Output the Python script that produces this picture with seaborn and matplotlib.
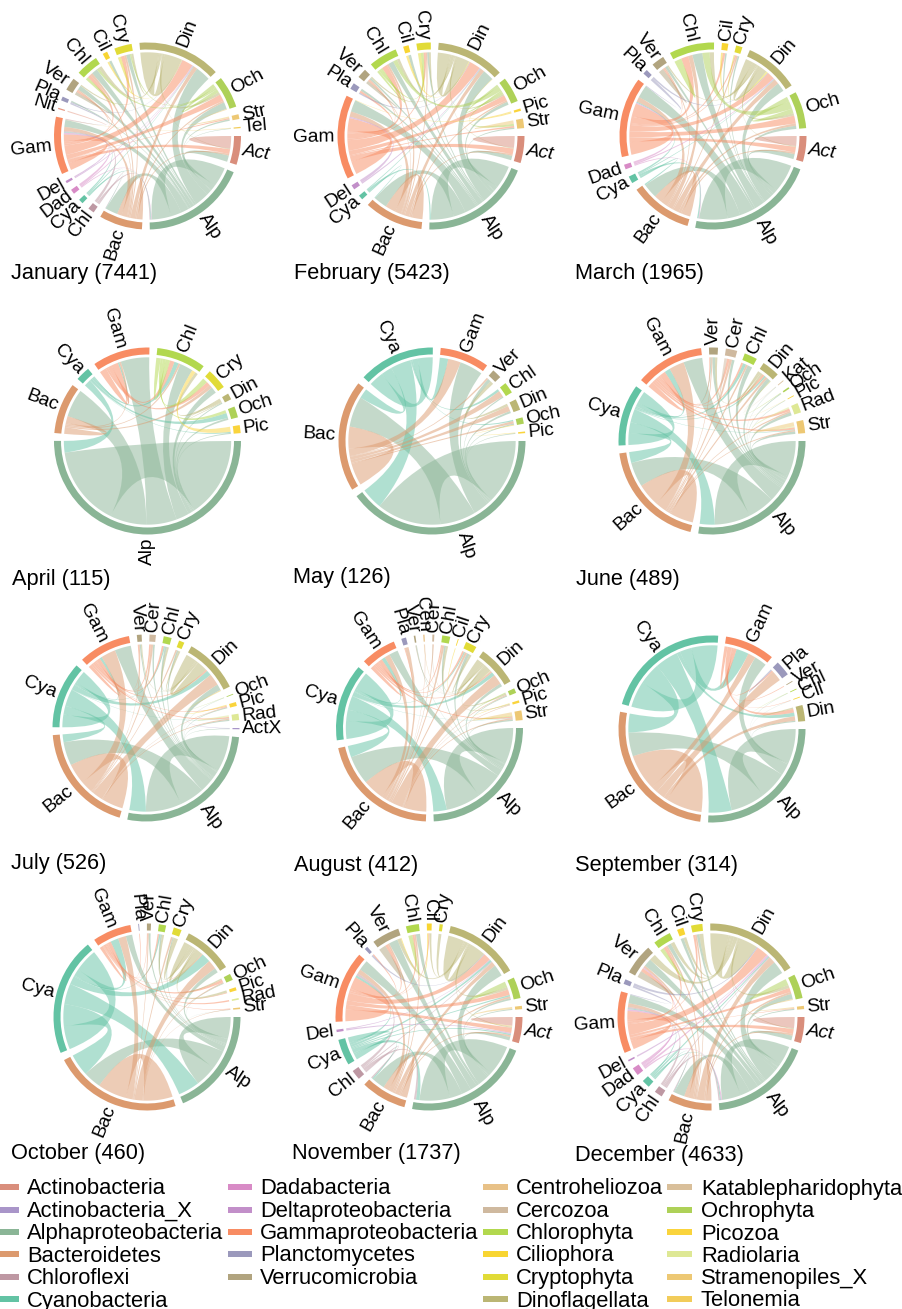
import numpy as np
import matplotlib
matplotlib.use("Agg")
import matplotlib.pyplot as plt
from matplotlib.path import Path
from matplotlib.patches import PathPatch, Wedge, Rectangle
import seaborn as sns

sns.set_theme(style="white")
plt.rcParams['font.family'] = ['Liberation Sans', 'DejaVu Sans']

TAXA = ["Act","ActX","Alp","Bac","Chf","Cya","Dad","Del","Gam","Nit","Pla","Ver",
        "Cen","Cer","Chl","Cil","Cry","Din","Kat","Och","Pic","Rad","Str","Tel"]
TAXA_COLORS = ["#D98E7C","#A995C9","#8AB596","#DC9A6E","#BE98A3","#63C3A4","#D88BC6","#C28FC9",
               "#F88C63","#E59A86","#9B99BC","#B1A47F","#E8C187","#CFB99F","#B2D84E","#F8D532",
               "#E1DB37","#BBB674","#D9BF9A","#AED158","#FAD43C","#DEE895","#EDC874","#F2CC5A"]
palette = dict(zip(TAXA, sns.color_palette(TAXA_COLORS)))

LEG1 = ["Actinobacteria","Actinobacteria_X","Alphaproteobacteria","Bacteroidetes","Chloroflexi","Cyanobacteria"]
LEG1_K = ["Act","ActX","Alp","Bac","Chf","Cya"]
LEG2 = ["Dadabacteria","Deltaproteobacteria","Gammaproteobacteria","Planctomycetes","Verrucomicrobia"]
LEG2_K = ["Dad","Del","Gam","Pla","Ver"]
LEG3 = ["Centroheliozoa","Cercozoa","Chlorophyta","Ciliophora","Cryptophyta","Dinoflagellata"]
LEG3_K = ["Cen","Cer","Chl","Cil","Cry","Din"]
LEG4 = ["Katablepharidophyta","Ochrophyta","Picozoa","Radiolaria","Stramenopiles_X","Telonemia"]
LEG4_K = ["Kat","Och","Pic","Rad","Str","Tel"]

MONTHS = ["January","February","March","April","May","June","July","August","September",
          "October","November","December"]
COUNTS = [7441,5423,1965,115,126,489,526,412,314,460,1737,4633]

jan_s = dict(Act=18,Alp=66,Bac=27,Chf=4,Cya=3,Dad=3,Del=1.5,Gam=36,Nit=.8,Pla=2.5,Ver=8,Chl=14,Cil=3,Cry=11,Din=52,Och=20,Str=3,Tel=.8)
jan_l = [("Alp","Alp",15),("Alp","Act",4),("Alp","Tel",.2),("Alp","Str",.5),("Alp","Och",4),("Alp","Din",11),("Alp","Cry",1.5),("Alp","Cil",.4),("Alp","Chl",2.5),("Alp","Ver",2),("Alp","Pla",.5),("Alp","Gam",6),("Alp","Bac",8),
 ("Bac","Bac",3),("Bac","Act",1),("Bac","Och",1),("Bac","Din",3),("Bac","Cry",.8),("Bac","Chl",1),("Bac","Ver",.6),("Bac","Gam",3.5),
 ("Gam","Gam",6),("Gam","Act",3),("Gam","Str",.4),("Gam","Och",4),("Gam","Din",8),("Gam","Cry",1.5),("Gam","Chl",1.5),("Gam","Ver",.7),
 ("Cya","Alp",.6),("Cya","Bac",.3),("Cya","Gam",.6),("Cya","Din",.4),("Chf","Alp",.6),("Chf","Bac",.3),("Chf","Gam",.8),
 ("Dad","Gam",1),("Dad","Din",.5),("Dad","Alp",.4),("Del","Gam",.4),("Del","Din",.3),
 ("Din","Din",13),("Din","Och",1.5),("Din","Cry",.8),("Din","Chl",1.4),("Din","Ver",.6),("Din","Act",.4),
 ("Och","Och",2),("Och","Chl",1),("Och","Cry",.6),("Act","Act",4),("Ver","Ver",.7),("Chl","Chl",.6),("Cry","Cry",.6),
 ("Pla","Gam",.5),("Pla","Din",.3),("Nit","Gam",.3),("Cil","Din",.3),("Str","Och",.5),("Tel","Gam",.2)]

feb_s = dict(Act=17,Alp=70,Bac=37,Cya=3,Del=3,Gam=53,Pla=4,Ver=6,Chl=18,Cil=3.5,Cry=9,Din=43,Och=16,Pic=1.5,Str=6)
feb_l = [("Alp","Alp",17),("Alp","Act",3),("Alp","Str",.6),("Alp","Och",2),("Alp","Din",8),("Alp","Cry",1),("Alp","Cil",.6),("Alp","Chl",4),("Alp","Ver",1),("Alp","Pla",.8),("Alp","Gam",9),("Alp","Bac",9),
 ("Bac","Bac",7),("Bac","Act",1),("Bac","Och",1),("Bac","Din",3),("Bac","Cry",.8),("Bac","Chl",1.5),("Bac","Ver",.5),("Bac","Gam",4),
 ("Gam","Gam",10),("Gam","Act",4),("Gam","Str",.8),("Gam","Och",3.5),("Gam","Din",8),("Gam","Cry",1.2),("Gam","Chl",4),("Gam","Ver",.8),("Gam","Pla",.8),
 ("Cya","Alp",1),("Cya","Bac",.5),("Cya","Din",.4),("Del","Gam",1),("Del","Din",.5),
 ("Din","Din",9),("Din","Och",1),("Din","Cry",1),("Din","Chl",2),("Din","Ver",.8),("Din","Act",.5),
 ("Och","Och",1.5),("Och","Chl",3),("Och","Str",1),("Act","Act",4),("Ver","Ver",.8),("Chl","Chl",1.5),("Chl","Cry",1.5),("Cry","Cry",.8),
 ("Pla","Din",.5),("Cil","Din",.5),("Str","Str",.8),("Pic","Gam",.3),("Pic","Din",.3)]

mar_s = dict(Act=16,Alp=80,Bac=39,Cya=4.5,Dad=3,Gam=50,Pla=3,Ver=8,Chl=28,Cil=4,Cry=4,Din=34,Och=23)
mar_l = [("Alp","Alp",20),("Alp","Act",3),("Alp","Och",2),("Alp","Din",6),("Alp","Cry",.8),("Alp","Cil",.5),("Alp","Chl",7),("Alp","Ver",1.5),("Alp","Gam",10),("Alp","Bac",9),
 ("Bac","Bac",5),("Bac","Act",1),("Bac","Och",1.5),("Bac","Din",3.5),("Bac","Cry",.8),("Bac","Chl",3),("Bac","Ver",.8),("Bac","Gam",4),
 ("Gam","Gam",10),("Gam","Act",3.5),("Gam","Och",5),("Gam","Din",5),("Gam","Cry",.8),("Gam","Cil",.8),("Gam","Chl",5),("Gam","Ver",.8),
 ("Cya","Alp",1),("Cya","Bac",.8),("Cya","Gam",.8),("Cya","Din",.4),("Dad","Gam",.8),("Dad","Din",.6),("Dad","Alp",.4),
 ("Din","Din",5),("Din","Och",1.5),("Din","Chl",3),("Din","Ver",.8),("Din","Act",.5),
 ("Och","Och",3),("Och","Chl",5),("Act","Act",3),("Ver","Ver",1.5),("Chl","Chl",2.5),("Cry","Din",.6),("Cil","Din",.6),("Pla","Din",.4),("Pla","Gam",.6)]

apr_s = dict(Alp=181,Bac=32,Cya=9,Gam=36,Chl=31,Cry=13,Din=4,Och=7,Pic=5)
apr_l = [("Alp","Alp",55),("Alp","Pic",.5),("Alp","Och",1),("Alp","Din",.7),("Alp","Cry",2.5),("Alp","Chl",9),("Alp","Gam",21),("Alp","Bac",25),
 ("Cya","Alp",8),("Cya","Och",2.5),("Cya","Chl",3),("Cya","Gam",1),("Cya","Pic",.5),
 ("Bac","Bac",6),("Bac","Cry",1.3),("Bac","Chl",1.3),("Bac","Gam",1.3),
 ("Gam","Gam",5),("Gam","Cry",1.6),("Gam","Chl",3),
 ("Chl","Chl",3),("Chl","Och",1.5),("Chl","Cry",2),("Din","Din",.5),("Din","Chl",2),("Pic","Chl",2.5)]

may_s = dict(Alp=145,Bac=70,Cya=48,Gam=31,Ver=6,Chl=7,Din=7,Och=4,Pic=1)
may_l = [("Alp","Alp",45),("Alp","Pic",.4),("Alp","Och",.5),("Alp","Din",1),("Alp","Chl",.5),("Alp","Ver",1.2),("Alp","Gam",11),("Alp","Bac",25),
 ("Cya","Alp",15),("Cya","Bac",8),("Cya","Gam",4),("Cya","Chl",1),("Cya","Och",.5),("Cya","Cya",11),
 ("Bac","Bac",18),("Bac","Och",1),("Bac","Din",2.5),("Bac","Chl",2.5),("Bac","Ver",.6),("Bac","Gam",6),
 ("Din","Ver",1.2),("Pic","Och",.3)]

jun_s = dict(Alp=97,Bac=68,Cya=38,Gam=42,Ver=5.5,Cer=7,Chl=8,Din=11,Kat=.5,Och=1,Pic=.5,Rad=6,Str=8)
jun_l = [("Alp","Alp",24),("Alp","Str",1.5),("Alp","Rad",1.2),("Alp","Pic",.2),("Alp","Och",.3),("Alp","Kat",.1),("Alp","Din",2),("Alp","Chl",1.5),("Alp","Cer",1),("Alp","Ver",1),("Alp","Gam",10),("Alp","Bac",18),
 ("Cya","Alp",10),("Cya","Bac",8),("Cya","Cya",9),("Cya","Str",.4),("Cya","Din",.8),("Cya","Chl",1),("Cya","Gam",3),("Cya","Ver",.3),
 ("Bac","Bac",17),("Bac","Str",.8),("Bac","Rad",.6),("Bac","Din",1.2),("Bac","Chl",.6),("Bac","Cer",1),("Bac","Ver",.4),("Bac","Gam",8),
 ("Gam","Gam",3),("Gam","Str",1.2),("Gam","Rad",1),("Gam","Din",1.2),("Gam","Chl",.6),("Gam","Cer",1),("Gam","Ver",.4),
 ("Din","Din",1),("Din","Ver",.8),("Str","Str",1.2),("Rad","Str",.6),("Cer","Cer",.5),("Pic","Din",.1),("Och","Din",.2),("Kat","Din",.1)]

jul_s = dict(ActX=.8,Alp=97,Bac=70,Cya=42,Gam=33,Ver=3,Cer=4,Chl=5,Cry=3.5,Din=35,Och=.5,Pic=2.5,Rad=4)
jul_l = [("Alp","Alp",26),("Alp","ActX",.2),("Alp","Rad",.8),("Alp","Pic",.4),("Alp","Och",.1),("Alp","Din",4),("Alp","Cry",.6),("Alp","Chl",1),("Alp","Cer",.6),("Alp","Ver",.6),("Alp","Gam",10),("Alp","Bac",18),
 ("Cya","Alp",12),("Cya","Bac",6),("Cya","Cya",9),("Cya","Din",3.5),("Cya","Rad",.3),("Cya","Gam",1.5),("Cya","Chl",.6),
 ("Bac","Bac",16),("Bac","Din",8),("Bac","Rad",.8),("Bac","Pic",.3),("Bac","Cry",.6),("Bac","Cer",.8),("Bac","Ver",.5),("Bac","Gam",9),
 ("Gam","Gam",2),("Gam","Din",1),("Gam","Rad",1),("Gam","Pic",.4),("Gam","Chl",1),("Gam","Cer",.6),("Gam","Ver",.4),
 ("Din","Din",7),("Din","Chl",1),("Din","Cry",.8),("Din","Ver",.5),("Pic","Din",.5),("ActX","Din",.2),("Rad","Rad",.6),("Och","Din",.1)]

aug_s = dict(Alp=87,Bac=75,Cya=48,Gam=22,Pla=3,Ver=1,Cen=.8,Cer=1.2,Chl=5,Cil=.5,Cry=7,Din=25,Och=3,Pic=1.5,Str=6)
aug_l = [("Alp","Alp",26),("Alp","Str",1),("Alp","Och",.5),("Alp","Din",2.5),("Alp","Cry",1.2),("Alp","Chl",.8),("Alp","Ver",.2),("Alp","Gam",5),("Alp","Bac",20),
 ("Cya","Alp",10),("Cya","Bac",8),("Cya","Cya",13),("Cya","Din",3),("Cya","Str",.3),("Cya","Gam",2),("Cya","Cry",.5),
 ("Bac","Bac",15),("Bac","Str",1),("Bac","Pic",.3),("Bac","Och",.5),("Bac","Din",8),("Bac","Cry",1),("Bac","Chl",1),("Bac","Cer",.4),("Bac","Cen",.2),("Bac","Pla",2),("Bac","Gam",3),
 ("Gam","Gam",2),("Gam","Str",1),("Gam","Din",1),("Gam","Cry",.8),("Gam","Chl",.6),("Gam","Pla",.4),
 ("Din","Din",5),("Din","Cry",1),("Din","Chl",1),("Din","Och",.8),("Din","Pic",.5),("Str","Str",1),("Och","Str",.5),("Pic","Str",.3),("Ver","Din",.3),("Cen","Din",.2),("Cer","Din",.3),("Cil","Din",.2)]

sep_s = dict(Alp=92,Bac=93,Cya=78,Gam=31,Pla=9.5,Ver=.5,Chl=.5,Cil=.5,Din=10)
sep_l = [("Alp","Alp",24),("Alp","Din",.8),("Alp","Cil",.1),("Alp","Chl",.1),("Alp","Gam",8),("Alp","Bac",19),
 ("Cya","Alp",16),("Cya","Bac",15),("Cya","Cya",18),("Cya","Din",2.5),("Cya","Gam",8),
 ("Bac","Bac",29),("Bac","Din",3),("Bac","Pla",7),("Bac","Gam",5),
 ("Gam","Gam",2),("Gam","Din",2.5),("Gam","Pla",1),("Gam","Ver",.2),("Gam","Cil",.2),("Din","Din",.4),("Pla","Pla",.5),("Chl","Din",.1)]

oct_s = dict(Alp=67,Bac=80,Cya=73,Gam=24,Pla=.5,Ver=2.5,Chl=4.5,Cry=5,Din=31,Och=4,Pic=2,Rad=1,Str=1)
oct_l = [("Alp","Alp",15),("Alp","Str",.1),("Alp","Din",3),("Alp","Och",.3),("Alp","Cry",.5),("Alp","Chl",.8),("Alp","Ver",.8),("Alp","Gam",4),("Alp","Bac",13),
 ("Cya","Alp",15),("Cya","Bac",16),("Cya","Cya",17),("Cya","Din",6),("Cya","Gam",5),("Cya","Chl",.8),
 ("Bac","Bac",21),("Bac","Din",6),("Bac","Och",.5),("Bac","Str",.3),("Bac","Cry",.8),("Bac","Ver",.5),("Bac","Gam",5),
 ("Gam","Gam",2),("Gam","Och",1.2),("Gam","Pic",.3),("Gam","Rad",.3),("Gam","Str",.3),("Gam","Din",.5),("Gam","Chl",.7),("Gam","Ver",.3),("Gam","Pla",.2),
 ("Din","Din",4.5),("Din","Cry",2),("Din","Chl",1),("Din","Pic",1),("Din","Och",.6)]

nov_s = dict(Act=16,Alp=78,Bac=28,Chf=6,Cya=16,Del=1.5,Gam=44,Pla=2,Ver=17,Chl=8,Cil=3,Cry=2,Din=46,Och=13,Str=2)
nov_l = [("Alp","Alp",22),("Alp","Act",2),("Alp","Str",.3),("Alp","Och",1),("Alp","Din",8),("Alp","Chl",2),("Alp","Ver",5),("Alp","Gam",7),("Alp","Bac",9),
 ("Cya","Alp",2.5),("Cya","Bac",1),("Cya","Cya",3.5),("Cya","Gam",1.5),("Cya","Din",1.5),("Cya","Act",.8),("Cya","Och",.8),
 ("Chf","Alp",1.5),("Chf","Bac",1),("Chf","Gam",1.5),("Chf","Din",.6),
 ("Bac","Bac",4),("Bac","Act",1),("Bac","Och",1),("Bac","Din",3),("Bac","Chl",.8),("Bac","Ver",1),("Bac","Gam",3),
 ("Gam","Gam",8),("Gam","Act",3),("Gam","Och",3),("Gam","Din",5),("Gam","Cil",.4),("Gam","Chl",1),("Gam","Ver",1.5),("Gam","Pla",.3),
 ("Din","Din",11),("Din","Och",1.5),("Din","Cry",.5),("Din","Cil",.8),("Din","Ver",2),("Din","Act",.6),
 ("Del","Act",.6),("Del","Din",.4),("Och","Och",1.5),("Act","Act",2.5),("Ver","Ver",2),("Chl","Chl",1),("Str","Act",.6),("Pla","Din",.4),("Cil","Ver",.5)]

dec_s = dict(Act=16,Alp=63,Bac=27,Chf=5,Cya=5,Dad=5,Del=1,Gam=38,Pla=3,Ver=19,Chl=11,Cil=4,Cry=7,Din=58,Och=15,Str=2)
dec_l = [("Alp","Alp",14),("Alp","Act",2.5),("Alp","Str",.5),("Alp","Och",2.5),("Alp","Din",10),("Alp","Cry",1),("Alp","Cil",.8),("Alp","Chl",2),("Alp","Ver",3.5),("Alp","Gam",7),("Alp","Bac",7),
 ("Cya","Alp",.8),("Cya","Gam",.8),("Cya","Din",1),("Cya","Bac",.5),("Cya","Cya",.6),
 ("Chf","Alp",1),("Chf","Gam",1),("Chf","Din",.5),("Chf","Bac",.6),
 ("Dad","Gam",1.5),("Dad","Din",1.2),("Dad","Alp",.8),("Dad","Ver",.5),
 ("Bac","Bac",3),("Bac","Act",1),("Bac","Och",1),("Bac","Din",5),("Bac","Cry",.6),("Bac","Chl",1),("Bac","Ver",1),("Bac","Gam",3),
 ("Gam","Gam",7),("Gam","Act",2.5),("Gam","Str",.3),("Gam","Och",2),("Gam","Din",9),("Gam","Cry",.8),("Gam","Chl",1.5),("Gam","Ver",1.5),
 ("Din","Din",14),("Din","Och",1.5),("Din","Cry",1.5),("Din","Cil",.8),("Din","Chl",2),("Din","Ver",3),("Din","Act",.5),
 ("Och","Och",1.5),("Act","Act",3),("Ver","Ver",1.5),("Pla","Din",.8),("Pla","Gam",.6),("Del","Din",.3),("Str","Och",.5),("Chl","Chl",1)]

SECTORS = [jan_s,feb_s,mar_s,apr_s,may_s,jun_s,jul_s,aug_s,sep_s,oct_s,nov_s,dec_s]
LINKS = [jan_l,feb_l,mar_l,apr_l,may_l,jun_l,jul_l,aug_l,sep_l,oct_l,nov_l,dec_l]

# layout (pixels)
W, H = 903, 1309
CENTERS = [(147.5,136),(431,136),(713,136),(147.5,441),(432,441),(712,441),
           (146,728),(429.5,728),(712,729),(147,1017),(429,1017),(711,1017)]
TITLE_POS = [(11,273),(294,273),(575,273),(12,579),(293,578),(576,579),
             (11,864),(294,865),(575,866),(11,1154),(292,1154),(575,1155)]
R = 93.5
HALF = 145
GAP = 4.85
R_TRACK = 0.925
R_LINK = 0.895

def pt(deg, r=R_LINK):
    a = np.deg2rad(deg)
    return (r*np.cos(a), -r*np.sin(a))

def arc(d0, d1):
    n = max(2, int(abs(d1-d0)/2)+2)
    return [pt(d) for d in np.linspace(d0, d1, n)]

def draw_chord(ax, sizes, links):
    names = [k for k in TAXA if k in sizes]
    idx = {k:i for i,k in enumerate(names)}
    n = len(names)
    k = (360 - n*GAP) / sum(sizes.values())
    start, cur = {}, 0.0
    for name in names:
        start[name] = cur
        cur += sizes[name]*k + GAP
    # slot sequence: own self part A, outgoing links, self part B, incoming links
    seq = {name: [] for name in names}
    for name in names:
        i = idx[name]
        dist = lambda o: (i-idx[o]) % n
        selfs = [(l,0) for l,(a,b,v) in enumerate(links) if a==name and b==name]
        out = sorted([(l,1) for l,(a,b,v) in enumerate(links) if a==name and b!=name],
                     key=lambda t: dist(links[t[0]][1]))
        inc = sorted([(l,2) for l,(a,b,v) in enumerate(links) if b==name and a!=name],
                     key=lambda t: dist(links[t[0]][0]))
        seq[name] = selfs[:1] + out + [(s[0],3) for s in selfs[:1]] + inc
    ends = {}
    for name in names:
        total = sum(links[l][2] for l,_ in seq[name])
        pos = start[name]
        w = sizes[name]*k
        for l,role in seq[name]:
            d = links[l][2]/total*w
            ends[(l,role)] = (pos, pos+d)
            pos += d
    for l,(a,b,v) in enumerate(links):
        if a==b:
            e0, e1 = ends[(l,0)], ends[(l,3)]
        else:
            e0, e1 = ends[(l,1)], ends[(l,2)]
        pa, pb = arc(*e0), arc(*e1)
        verts = list(pa) + [(0,0), pb[0]] + list(pb[1:]) + [(0,0), pa[0], pa[0]]
        codes = [Path.MOVETO] + [Path.LINETO]*(len(pa)-1) + [Path.CURVE3,Path.CURVE3] + \
                [Path.LINETO]*(len(pb)-1) + [Path.CURVE3,Path.CURVE3,Path.CLOSEPOLY]
        ax.add_patch(PathPatch(Path(verts,codes), fc=palette[a], ec='none', alpha=0.5, zorder=2))
    for name in names:
        d0 = start[name]; d1 = d0 + sizes[name]*k
        ax.add_patch(Wedge((0,0),1.0,-d1,-d0,width=1-R_TRACK,fc=palette[name],ec='none',zorder=3))
        mid = (d0+d1)/2
        x,y = pt(mid,1.03)
        math_a = -mid
        label = "Chl" if name=="Chf" else name
        if np.cos(np.deg2rad(mid))>0.01:
            rot,ha = math_a,'left'
        else:
            rot,ha = math_a+180,'right'
        ax.text(x,y,label,rotation=rot,rotation_mode='anchor',ha=ha,va='center',
                fontsize=13.8,color='black',style='italic' if name=="Act" else 'normal',zorder=4)

fig = plt.figure(figsize=(W/100,H/100),dpi=100,facecolor='white')
bg = fig.add_axes([0,0,1,1]); bg.set_xlim(0,W); bg.set_ylim(H,0); bg.axis('off')

for (cx,cy),sz,lk,(tx,ty),m,c in zip(CENTERS,SECTORS,LINKS,TITLE_POS,MONTHS,COUNTS):
    ax = fig.add_axes([(cx-HALF)/W,1-(cy+HALF)/H,2*HALF/W,2*HALF/H])
    ax.set_xlim(-HALF/R,HALF/R); ax.set_ylim(-HALF/R,HALF/R); ax.axis('off')
    ax.patch.set_alpha(0)
    draw_chord(ax,sz,lk)
    bg.text(tx,ty,f"{m} ({c})",fontsize=15.7,ha='left',va='center',color='black')

LEG_ROWS = [1187,1209.5,1232,1254,1276.5,1299]
for labels,keys,x0,x1,xt in [(LEG1,LEG1_K,-5,19,27),(LEG2,LEG2_K,228,252,260),
                             (LEG3,LEG3_K,483,508,516),(LEG4,LEG4_K,667,692,701)]:
    for lab,key,y in zip(labels,keys,LEG_ROWS):
        bg.add_patch(Rectangle((x0,y-3),x1-x0,6,fc=palette[key],ec='none'))
        bg.text(xt,y+2,lab,fontsize=15.8,ha='left',va='center',color='black')

fig.savefig("out.png",dpi=100)
